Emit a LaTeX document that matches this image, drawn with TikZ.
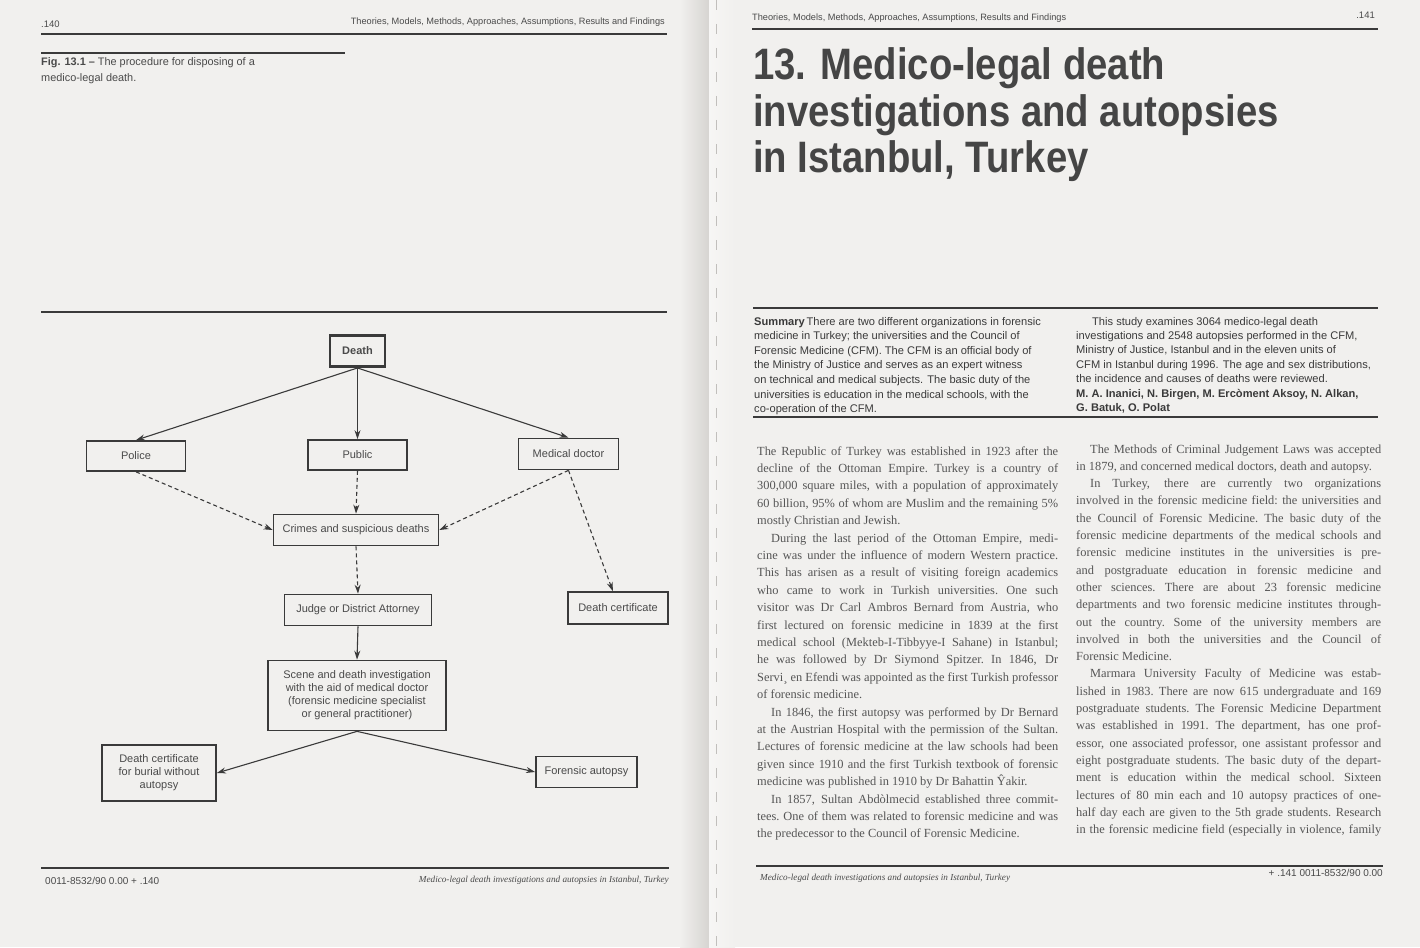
\documentclass[tikz,border=0pt]{standalone}
\usepackage{fontspec}
\usepackage{graphicx}
\setmainfont{Liberation Serif}
\newfontfamily\hs{Liberation Sans}
\newfontfamily\hst[FakeStretch=0.87]{Liberation Sans}
\usetikzlibrary{arrows.meta}
\definecolor{paper}{HTML}{F1F0EE}
\definecolor{ink}{HTML}{3A3A3A}
\definecolor{txt}{HTML}{4A4A4A}
\definecolor{body}{HTML}{555555}
\definecolor{titlec}{HTML}{454545}
\definecolor{gut}{HTML}{D6D4D1}
\newlength\colw
\newsavebox\lnbox
\newcommand\jl[1]{\sbox\lnbox{#1}\ifdim\wd\lnbox>\dimexpr\colw+8pt\relax
  \hbox to\colw{\resizebox{\colw}{\height}{\usebox\lnbox}}\else\hbox to\colw{#1}\fi}
\newcommand\jlast[1]{\hbox to \colw{#1\hfil}}
\newcommand\jind{\hspace*{14pt}}
\tikzset{
  fbox/.style={draw=ink, line width=1.7pt, inner sep=2pt, align=center, text=txt,
    font=\hs\fontsize{11}{13}\selectfont},
  arr/.style={draw=ink, line width=1.1pt, -{Stealth[length=9pt,width=6pt]}},
  darr/.style={arr, dash pattern=on 4pt off 3pt},
  rule/.style={draw=ink},
  lbl/.style={inner sep=0pt, text=txt},
}
\begin{document}
\begin{tikzpicture}[x=1pt,y=-1pt]
\useasboundingbox (0,0) rectangle (1420,947);
\fill[paper] (0,0) rectangle (1420,947);
\shade[left color=paper, right color=gut] (680,0) rectangle (709,947);
\shade[left color=paper!60!white, right color=paper] (709,0) rectangle (735,947);
\draw[gut!90!black, line width=0.5pt, dash pattern=on 10pt off 14pt] (716,0) -- (716,947);

% ---------------- left page header ----------------
\node[lbl, anchor=base west, font=\hs\fontsize{9.5}{11}\selectfont] (lpn) at (41,28) {.140};
\node[lbl, anchor=base east, font=\hs\fontsize{9.2}{11}\selectfont] (lht) at (665,25) {Theories, Models, Methods, Approaches, Assumptions, Results and Findings};
\draw[rule, line width=2.6pt] (41,34) -- (667,34);
\draw[rule, line width=1.1pt] (41,53) -- (345,53);
\node[lbl, anchor=base west, font=\hs\fontsize{10.9}{16}\selectfont] (cap) at (41,66)
  {\vtop{\baselineskip=16pt\hbox{\textbf{Fig. 13.1 –} The procedure for disposing of a}\hbox{medico-legal death.}}};
\draw[rule, line width=1.3pt] (41,312) -- (667,312);

% ---------------- flowchart ----------------
\node[fbox, line width=2.9pt, minimum width=55pt, minimum height=31pt, font=\hs\bfseries\fontsize{11}{13}\selectfont] (death) at (357.5,351) {Death};
\node[fbox, minimum width=99pt, minimum height=30pt] (police) at (136,456) {Police};
\node[fbox, minimum width=99pt, minimum height=30pt] (public) at (357.5,455) {Public};
\node[fbox, minimum width=100pt, minimum height=31pt] (md) at (568.5,454) {Medical doctor};
\node[fbox, minimum width=165pt, minimum height=31pt] (crimes) at (356,530) {Crimes and suspicious deaths};
\node[fbox, minimum width=147pt, minimum height=31pt] (judge) at (358,610) {Judge or District Attorney};
\node[fbox, minimum width=100pt, minimum height=32pt] (dc) at (618,608) {Death certificate};
\node[fbox, minimum width=178pt, minimum height=70pt] (scene) at (357,695.5)
  {Scene and death investigation\\with the aid of medical doctor\\(forensic medicine specialist\\or general practitioner)};
\node[fbox, minimum width=114pt, minimum height=56pt] (burial) at (159,773) {Death certificate\\for burial without\\autopsy};
\node[fbox, minimum width=101pt, minimum height=31pt] (fa) at (586.5,772) {Forensic autopsy};

\draw[arr] (death.south) -- (police.north);
\draw[arr] (death.south) -- (public.north);
\draw[arr] (death.south) -- (md.north);
\draw[darr] (police.south) -- (crimes.west);
\draw[darr] (public.south) -- (crimes.north);
\draw[darr] (md.south) -- (crimes.east);
\draw[darr] (md.south) -- (dc.107);
\draw[darr] (crimes.south) -- (judge.north);
\draw[arr] (judge.south) -- (scene.north);
\draw[arr] (scene.south) -- (burial.east);
\draw[arr] (scene.south) -- (fa.west);

% ---------------- left footer ----------------
\draw[rule, line width=1.2pt] (41,868) -- (669,868);
\node[lbl, anchor=base west, font=\hs\fontsize{10}{12}\selectfont] (lf1) at (45,884) {0011-8532/90 0.00 + .140};
\node[lbl, anchor=base east, font=\itshape\fontsize{9.2}{11}\selectfont] (lf2) at (669,882) {Medico-legal death investigations and autopsies in Istanbul, Turkey};

% ---------------- right page header ----------------
\node[lbl, anchor=base west, font=\hs\fontsize{9.2}{11}\selectfont] (rht) at (752,21) {Theories, Models, Methods, Approaches, Assumptions, Results and Findings};
\node[lbl, anchor=base east, font=\hs\fontsize{9.5}{11}\selectfont] (rpn) at (1375,19) {.141};
\draw[rule, line width=2.4pt] (752,29) -- (1378,29);

\node[inner sep=0pt, anchor=base west, text=titlec, font=\hst\bfseries\fontsize{44}{46}\selectfont] (title) at (753,80)
  {\vtop{\baselineskip=46.5pt\hbox{13. Medico-legal death}\hbox{investigations and autopsies}\hbox{in Istanbul, Turkey}}};

% ---------------- summary ----------------
\draw[rule, line width=1.2pt] (753,308) -- (1378,308);
\draw[rule, line width=1.2pt] (753,417) -- (1378,417);
\node[lbl, anchor=base west, text=ink, font=\hs\fontsize{11.1}{14.6}\selectfont] (suml) at (754,325)
  {\vtop{\baselineskip=14.6pt
  \hbox{\textbf{Summary}\,There are two different organizations in forensic}
  \hbox{medicine in Turkey; the universities and the Council of}
  \hbox{Forensic Medicine (CFM). The CFM is an official body of}
  \hbox{the Ministry of Justice and serves as an expert witness}
  \hbox{on technical and medical subjects. The basic duty of the}
  \hbox{universities is education in the medical schools, with the}
  \hbox{co-operation of the CFM.}}};
\node[lbl, anchor=base west, text=ink, font=\hs\fontsize{11.1}{14.6}\selectfont] (sumr) at (1076,325)
  {\vtop{\baselineskip=14.4pt
  \hbox{\hspace*{16pt}This study examines 3064 medico-legal death}
  \hbox{investigations and 2548 autopsies performed in the CFM,}
  \hbox{Ministry of Justice, Istanbul and in the eleven units of}
  \hbox{CFM in Istanbul during 1996. The age and sex distributions,}
  \hbox{the incidence and causes of deaths were reviewed.}
  \hbox{\bfseries M. A. Inanici, N. Birgen, M. Ercòment Aksoy, N. Alkan,}
  \hbox{\bfseries G. Batuk, O. Polat}}};

% ---------------- body columns ----------------
\node[lbl, anchor=base west, text=body, font=\fontsize{12.4}{17.4}\selectfont] (lcol) at (757,455)
  {\vtop{\colw=301pt\baselineskip=17.4pt
  \spaceskip=0.25em plus 0.6em minus 0.1em\xspaceskip=\spaceskip
  \jl{The Republic of Turkey was established in 1923 after the}
  \jl{decline of the Ottoman Empire. Turkey is a country of}
  \jl{300,000 square miles, with a population of approximately}
  \jl{60 billion, 95\% of whom are Muslim and the remaining 5\%}
  \jlast{mostly Christian and Jewish.}
  \jl{\jind During the last period of the Ottoman Empire, medi-}
  \jl{cine was under the influence of modern Western practice.}
  \jl{This has arisen as a result of visiting foreign academics}
  \jl{who came to work in Turkish universities. One such}
  \jl{visitor was Dr Carl Ambros Bernard from Austria, who}
  \jl{first lectured on forensic medicine in 1839 at the first}
  \jl{medical school (Mekteb-I-Tibbyye-I Sahane) in Istanbul;}
  \jl{he was followed by Dr Siymond Spitzer. In 1846, Dr}
  \jl{Servi¸ en Efendi was appointed as the first Turkish professor}
  \jlast{of forensic medicine.}
  \jl{\jind In 1846, the first autopsy was performed by Dr Bernard}
  \jl{at the Austrian Hospital with the permission of the Sultan.}
  \jl{Lectures of forensic medicine at the law schools had been}
  \jl{given since 1910 and the first Turkish textbook of forensic}
  \jlast{medicine was published in 1910 by Dr Bahattin Ŷakir.}
  \jl{\jind In 1857, Sultan Abdòlmecid established three commit-}
  \jl{tees. One of them was related to forensic medicine and was}
  \jlast{the predecessor to the Council of Forensic Medicine.}}};
\node[lbl, anchor=base west, text=body, font=\fontsize{12.4}{17.3}\selectfont] (rcol) at (1076,453)
  {\vtop{\colw=305pt\baselineskip=17.3pt
  \spaceskip=0.25em plus 0.6em minus 0.1em\xspaceskip=\spaceskip
  \jl{\jind The Methods of Criminal Judgement Laws was accepted}
  \jlast{in 1879, and concerned medical doctors, death and autopsy.}
  \jl{\jind In Turkey, there are currently two organizations}
  \jl{involved in the forensic medicine field: the universities and}
  \jl{the Council of Forensic Medicine. The basic duty of the}
  \jl{forensic medicine departments of the medical schools and}
  \jl{forensic medicine institutes in the universities is pre-}
  \jl{and postgraduate education in forensic medicine and}
  \jl{other sciences. There are about 23 forensic medicine}
  \jl{departments and two forensic medicine institutes through-}
  \jl{out the country. Some of the university members are}
  \jl{involved in both the universities and the Council of}
  \jlast{Forensic Medicine.}
  \jl{\jind Marmara University Faculty of Medicine was estab-}
  \jl{lished in 1983. There are now 615 undergraduate and 169}
  \jl{postgraduate students. The Forensic Medicine Department}
  \jl{was established in 1991. The department, has one prof-}
  \jl{essor, one associated professor, one assistant professor and}
  \jl{eight postgraduate students. The basic duty of the depart-}
  \jl{ment is education within the medical school. Sixteen}
  \jl{lectures of 80 min each and 10 autopsy practices of one-}
  \jl{half day each are given to the 5th grade students. Research}
  \jl{in the forensic medicine field (especially in violence, family}}};

% ---------------- right footer ----------------
\draw[rule, line width=1.2pt] (756,866) -- (1383,866);
\node[lbl, anchor=base west, font=\itshape\fontsize{9.2}{11}\selectfont] (rf1) at (760,880) {Medico-legal death investigations and autopsies in Istanbul, Turkey};
\node[lbl, anchor=base east, font=\hs\fontsize{10}{12}\selectfont] (rf2) at (1383,876) {+ .141 0011-8532/90 0.00};
\end{tikzpicture}
\end{document}
